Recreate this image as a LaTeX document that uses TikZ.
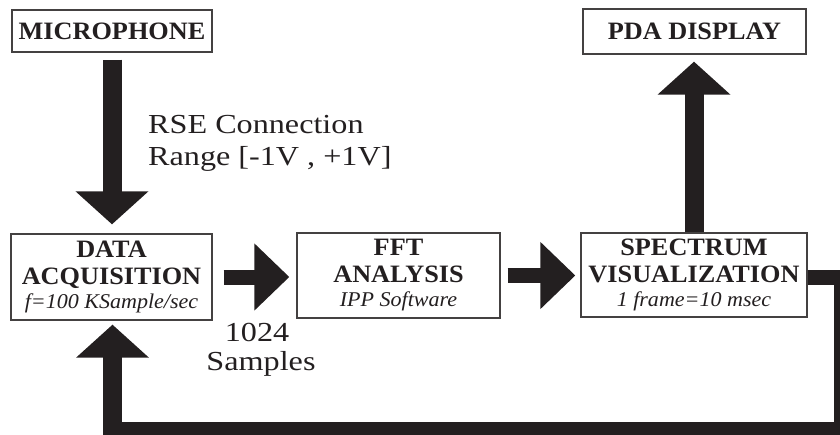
\documentclass[tikz,border=0pt]{standalone}
\usepackage{fontspec}
\setmainfont{Liberation Serif}
\newfontfamily\labelfamily[FakeStretch=1.17]{Liberation Serif}
\newfontfamily\boxfamily[FakeStretch=1.05]{Liberation Serif}
\usetikzlibrary{arrows.meta}
\definecolor{ink}{HTML}{231F20}
\newcommand{\boxtitle}{\boxfamily\bfseries\fontsize{25}{27}\selectfont}
\newcommand{\boxnote}{\boxfamily\mdseries\itshape\fontsize{21}{24}\selectfont}
\newcommand{\labeltext}{\labelfamily\fontsize{27.5}{32}\selectfont}
\tikzset{
  block/.style={draw=ink!85, line width=1.3pt, fill=white, inner sep=0pt,
    align=center, text=ink, font=\boxtitle},
  vertarrow/.style={draw=ink, line width=19pt, -{Triangle[width=71pt,length=33pt]}},
  horzarrow/.style={draw=ink, line width=15pt, -{Triangle[width=65pt,length=35pt]}},
  feedline/.style={draw=ink, line width=15pt, line join=miter},
  caption/.style={inner sep=0pt, text=ink, font=\labeltext},
}
\begin{document}
\begin{tikzpicture}[x=1pt,y=-1pt]
\useasboundingbox (0,0) rectangle (840,434);
\clip (0,0) rectangle (840,434);

% processing blocks
\node[block, minimum width=200pt, minimum height=42pt] (mic) at (112,31) {MICROPHONE};
\node[block, minimum width=223pt, minimum height=45pt] (pda) at (694.5,31.5) {PDA DISPLAY};
\node[block, minimum width=201pt, minimum height=86pt] (daq) at (111.5,277)
  {DATA\\ACQUISITION\\[-3pt]{\boxnote f=100 KSample/sec}};
\node[block, minimum width=203pt, minimum height=85pt] (fft) at (398.5,275.5)
  {FFT\\ANALYSIS\\[-3pt]{\boxnote IPP Software}};
\node[block, minimum width=226pt, minimum height=84pt] (spec) at (694,275)
  {SPECTRUM\\VISUALIZATION\\[-3pt]{\boxnote 1 frame=10 msec}};

% signal flow
\draw[vertarrow, shorten <=7pt, shorten >=9pt] (mic.south) -- (mic.south |- daq.north);
\draw[horzarrow, shorten <=11pt, shorten >=7pt] (daq.east) -- (daq.east -| fft.west);
\draw[horzarrow, shorten <=7pt, shorten >=5pt] (fft.east) -- (fft.east -| spec.west);
\draw[vertarrow, shorten >=7pt] (spec.north) -- (spec.north |- pda.south);

% feedback loop back to acquisition
\coordinate (fr) at (841,277);
\coordinate (fb) at (841,429);
\coordinate (fl) at (103,429);
\coordinate (fs) at (112.5,436);
\draw[feedline] (spec.east |- fr) -- (fr) -- (fb) -- (fl);
\draw[vertarrow, shorten >=4pt] (fs) -- (fs |- daq.south);

% labels
\node[caption, anchor=base west] (rse) at (148,133) {RSE Connection};
\node[caption, anchor=base west] (range) at (148,165) {Range [-1V , +1V]};
\node[caption, anchor=base] (count) at (257,341) {1024};
\node[caption, anchor=base] (samples) at (261,370) {Samples};
\end{tikzpicture}
\end{document}
